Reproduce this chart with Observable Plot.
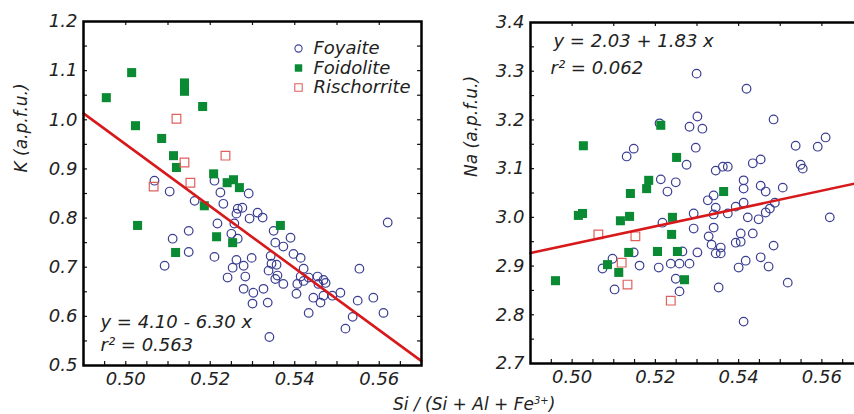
<!DOCTYPE html>
<html><head><meta charset="utf-8">
<script src="https://cdn.jsdelivr.net/npm/d3@7"></script>
<script src="https://cdn.jsdelivr.net/npm/@observablehq/plot@0.6"></script>
<style>
body{margin:0;background:#fff;}
#wrap{position:relative;width:854px;height:414px;overflow:hidden;background:#fff;font-family:"DejaVu Sans";font-style:italic;color:#222;}
#left{position:absolute;left:0;top:0;width:440px;}
#right{position:absolute;left:440px;top:0;width:440px;}
#xlabel{position:absolute;left:393px;top:396px;font-size:17px;line-height:17px;white-space:nowrap;}
#xlabel sup{font-size:10px;line-height:0;vertical-align:6px;}
</style></head><body>
<div id="wrap"><div id="left"></div><div id="right"></div><div id="xlabel">Si / (Si + Al + Fe<sup>3+</sup>)</div></div>
<script>
// ---------- data ----------
const series = ["Foyaite", "Foidolite", "Rischorrite"];
const xDomain = [0.49, 0.57];
const xTicks = [0.50, 0.52, 0.54, 0.56];
const kTicks = [0.5, 0.6, 0.7, 0.8, 0.9, 1.0, 1.1, 1.2];
const naTicks = [2.7, 2.8, 2.9, 3.0, 3.1, 3.2, 3.3, 3.4];
const fitK = {a: 4.10, b: -6.30};
const fitNa = {a: 2.03, b: 1.83};
const eqK = ["y = 4.10 - 6.30 x", "r\u00B2 = 0.563"];
const eqNa = ["y = 2.03 + 1.83 x", "r\u00B2 = 0.062"];
const labelK = "K (a.p.f.u.)";
const labelNa = "Na (a.p.f.u.)";

const foyaiteK = [[0.5068,0.876],[0.5104,0.854],[0.5210,0.876],[0.5291,0.850],[0.5163,0.835],[0.5231,0.829],[0.5265,0.819],[0.5276,0.821],[0.5262,0.809],[0.5293,0.799],[0.5312,0.811],[0.5324,0.801],[0.5217,0.789],[0.5257,0.789],[0.5350,0.774],[0.5250,0.768],[0.5265,0.758],[0.5390,0.760],[0.5354,0.750],[0.5373,0.742],[0.5210,0.721],[0.5262,0.715],[0.5298,0.719],[0.5279,0.703],[0.5253,0.699],[0.5343,0.723],[0.5345,0.707],[0.5357,0.705],[0.5397,0.727],[0.5414,0.719],[0.5421,0.697],[0.5553,0.697],[0.5359,0.683],[0.5241,0.679],[0.5283,0.681],[0.5414,0.681],[0.5454,0.681],[0.5468,0.674],[0.5092,0.703],[0.5111,0.758],[0.5149,0.774],[0.5149,0.731],[0.5224,0.852],[0.5338,0.693],[0.5354,0.676],[0.5373,0.666],[0.5406,0.666],[0.5404,0.646],[0.5279,0.656],[0.5302,0.648],[0.5326,0.656],[0.5300,0.626],[0.5336,0.628],[0.5433,0.679],[0.5473,0.668],[0.5456,0.666],[0.5444,0.638],[0.5461,0.628],[0.5468,0.642],[0.5489,0.642],[0.5508,0.648],[0.5549,0.632],[0.5586,0.638],[0.5610,0.607],[0.5537,0.599],[0.5433,0.607],[0.5520,0.575],[0.5340,0.558],[0.5620,0.791],[0.5421,0.672]];
const foidoliteK = [[0.4954,1.045],[0.5014,1.096],[0.5023,0.988],[0.5085,0.962],[0.5139,1.075],[0.5139,1.058],[0.5182,1.027],[0.5113,0.927],[0.5120,0.903],[0.5208,0.890],[0.5240,0.872],[0.5255,0.878],[0.5269,0.862],[0.5186,0.825],[0.5028,0.785],[0.5118,0.730],[0.5215,0.762],[0.5253,0.750],[0.5366,0.785]];
const rischorriteK = [[0.5120,1.002],[0.5236,0.927],[0.5139,0.913],[0.5153,0.872],[0.5066,0.864]];

const foyaiteNa = [[0.5299,3.295],[0.5419,3.264],[0.5484,3.201],[0.5210,3.193],[0.5301,3.207],[0.5282,3.186],[0.5313,3.182],[0.5148,3.141],[0.5131,3.125],[0.5297,3.143],[0.5275,3.108],[0.5537,3.147],[0.5549,3.108],[0.5554,3.100],[0.5590,3.145],[0.5609,3.164],[0.5213,3.078],[0.5249,3.072],[0.5229,3.053],[0.5345,3.096],[0.5362,3.104],[0.5374,3.104],[0.5434,3.111],[0.5453,3.119],[0.5412,3.076],[0.5412,3.059],[0.5453,3.065],[0.5465,3.053],[0.5506,3.061],[0.5326,3.035],[0.5340,3.045],[0.5345,3.020],[0.5340,3.006],[0.5393,3.022],[0.5412,3.030],[0.5292,3.008],[0.5374,3.008],[0.5487,3.030],[0.5475,3.018],[0.5422,3.000],[0.5448,2.996],[0.5465,3.010],[0.5292,2.977],[0.5340,2.979],[0.5328,2.961],[0.5405,2.967],[0.5434,2.967],[0.5619,3.000],[0.5073,2.895],[0.5097,2.915],[0.5102,2.852],[0.5148,2.928],[0.5162,2.901],[0.5217,2.989],[0.5208,2.897],[0.5237,2.905],[0.5258,2.905],[0.5282,2.905],[0.5265,2.930],[0.5249,2.874],[0.5258,2.848],[0.5301,2.928],[0.5335,2.944],[0.5345,2.926],[0.5357,2.938],[0.5357,2.926],[0.5393,2.948],[0.5405,2.950],[0.5484,2.942],[0.5400,2.897],[0.5417,2.911],[0.5453,2.918],[0.5472,2.899],[0.5352,2.856],[0.5518,2.866],[0.5412,2.786]];
const foidoliteNa = [[0.5027,3.147],[0.5213,3.189],[0.5251,3.123],[0.5184,3.076],[0.5179,3.059],[0.5140,3.049],[0.5015,3.004],[0.5025,3.008],[0.5116,2.993],[0.5138,3.002],[0.5241,3.000],[0.5239,2.965],[0.5364,3.053],[0.4960,2.870],[0.5085,2.903],[0.5112,2.887],[0.5136,2.928],[0.5205,2.930],[0.5253,2.930],[0.5270,2.872]];
const rischorriteNa = [[0.5063,2.965],[0.5152,2.961],[0.5119,2.907],[0.5133,2.862],[0.5237,2.829]];

// ---------- style ----------
const C = {foy: "#3b3f92", foi: "#0b8a34", ris: "#e0605e", fit: "#d7191c"};
const W = 440, H = 400;
const xMinor = d3.range(99, 114).map(i => +(i * 0.005).toFixed(3));

function panel(o) {
  const innerW = W - o.ml - o.mr, innerH = H - o.mt - o.mb;
  const yMinor = d3.range(Math.round(o.yDomain[0] / 0.05) + 1, Math.round(o.yDomain[1] / 0.05)).map(i => +(i * 0.05).toFixed(2));
  const fitLine = xDomain.map(x => ({x, y: o.fit.a + o.fit.b * x}));
  const marks = [
    Plot.tickX(xMinor, {x: d => d, stroke: "#111", strokeWidth: 1.2, insetTop: innerH - 4}),
    Plot.tickX(xMinor.filter((d, i) => i % 2 === 1), {x: d => d, stroke: "#111", strokeWidth: 1.2, insetBottom: innerH - 4}),
    Plot.tickY(yMinor, {y: d => d, stroke: "#111", strokeWidth: 1.2, insetRight: innerW - 4}),
    Plot.tickY(yMinor, {y: d => d, stroke: "#111", strokeWidth: 1.2, insetLeft: innerW - 4}),
    Plot.axisX(xTicks, {tickSize: 0, tickPadding: 7, tickFormat: d3.format(".2f"), label: null, fontSize: 18}),
    Plot.axisY(o.yTicks, {tickSize: 0, tickPadding: 6, tickFormat: d3.format(".1f"), label: null, fontSize: 18}),
    Plot.dot(o.foy, {x: d => d[0], y: d => d[1], r: 4.3, stroke: C.foy, strokeWidth: 1.2, fill: "none"}),
    Plot.dot(o.foi, {x: d => d[0], y: d => d[1], r: 5.1, symbol: "square", fill: C.foi, stroke: "none"}),
    Plot.dot(o.ris, {x: d => d[0], y: d => d[1], r: 4.9, symbol: "square", stroke: C.ris, strokeWidth: 1.2, fill: "none"}),
    Plot.line(fitLine, {x: "x", y: "y", stroke: C.fit, strokeWidth: 2.6}),
    Plot.frame({stroke: "#000", strokeWidth: 2.5}),
    Plot.text([o.yLabel], {frameAnchor: "left", dx: o.ylDx, dy: o.ylDy, rotate: -90, fontSize: 17, fontStyle: "italic"}),
    Plot.text([o.eq[0]], {frameAnchor: o.eqAnchor, dx: o.eqPos[0][0], dy: o.eqPos[0][1], textAnchor: "start", lineAnchor: "middle", fontSize: 18, fontStyle: "italic"}),
    Plot.text([o.eq[1]], {frameAnchor: o.eqAnchor, dx: o.eqPos[1][0], dy: o.eqPos[1][1], textAnchor: "start", lineAnchor: "middle", fontSize: 18, fontStyle: "italic"})
  ];
  if (o.legend) {
    const ly = [27, 46.5, 66];
    marks.push(
      Plot.dot([series[0]], {frameAnchor: "top-left", dx: 215, dy: ly[0], r: 3.6, stroke: C.foy, strokeWidth: 1.1, fill: "none"}),
      Plot.dot([series[1]], {frameAnchor: "top-left", dx: 215, dy: ly[1], r: 4.2, symbol: "square", fill: C.foi}),
      Plot.dot([series[2]], {frameAnchor: "top-left", dx: 215, dy: ly[2], r: 4.2, symbol: "square", stroke: C.ris, strokeWidth: 1.1, fill: "none"}),
      ...series.map((s, i) => Plot.text([s], {frameAnchor: "top-left", dx: 230, dy: ly[i], text: d => d, textAnchor: "start", lineAnchor: "middle", fontSize: 18, fontStyle: "italic"}))
    );
  }
  return Plot.plot({
    width: W, height: H,
    marginLeft: o.ml, marginRight: o.mr, marginTop: o.mt, marginBottom: o.mb,
    x: {domain: xDomain, label: null},
    y: {domain: o.yDomain, label: null},
    style: {fontFamily: "DejaVu Sans", fontStyle: "italic", fontSize: "18px", color: "#222", background: "white", overflow: "visible"},
    marks
  });
}

document.getElementById("left").append(panel({
  foy: foyaiteK, foi: foidoliteK, ris: rischorriteK,
  yTicks: kTicks, yDomain: [0.5, 1.2], fit: fitK, yLabel: labelK,
  ml: 83, mr: 19, mt: 21, mb: 35,
  ylDx: -62, ylDy: -21,
  eq: eqK, eqAnchor: "bottom-left", eqPos: [[17, -43], [17, -20]],
  legend: true
}));
document.getElementById("right").append(panel({
  foy: foyaiteNa, foi: foidoliteNa, ris: rischorriteNa,
  yTicks: naTicks, yDomain: [2.7, 3.4], fit: fitNa, yLabel: labelNa,
  ml: 90, mr: 17, mt: 22, mb: 37,
  ylDx: -59, ylDy: -16,
  eq: eqNa, eqAnchor: "top-left", eqPos: [[23, 19], [20, 46]],
  legend: false
}));
</script>
</body></html>
